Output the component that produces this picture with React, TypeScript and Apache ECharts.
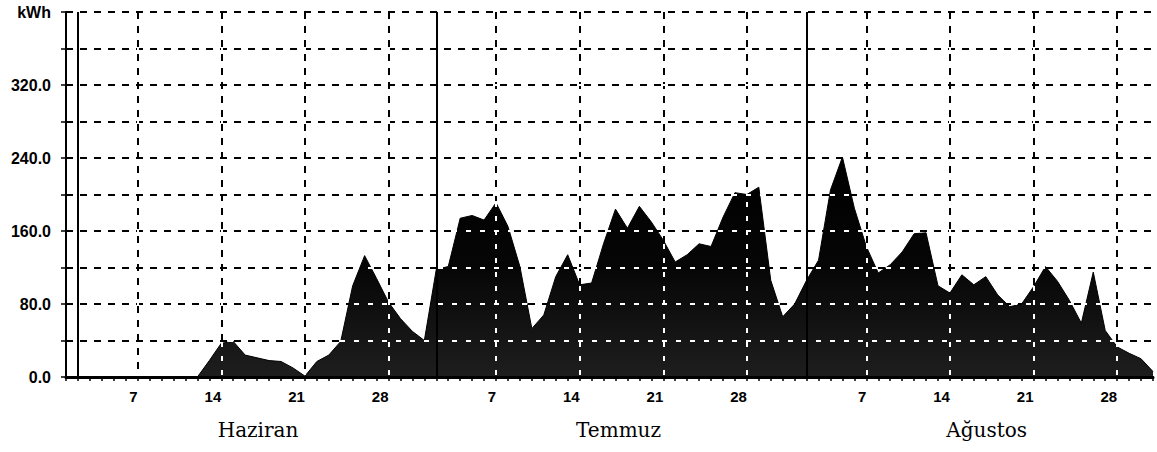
import React, { useEffect, useRef } from "react";
import * as echarts from "echarts";

const monthNames = ["Haziran", "Temmuz", "Ağustos"];
const monthLengths = [30, 31, 31];
const juneKwh = [0, 0, 0, 0, 0, 0, 0, 0, 0, 0, 0, 0, 18, 37, 39, 24, 21, 18, 17, 10, 1, 17, 24, 39, 100, 133, 108, 82, 64, 50];
const julyKwh = [40, 118, 121, 174, 177, 172, 191, 165, 121, 53, 68, 110, 134, 101, 103, 146, 184, 163, 187, 170, 150, 126, 134, 146, 143, 175, 202, 200, 208, 106, 66];
const augustKwh = [80, 106, 128, 205, 241, 185, 143, 114, 123, 137, 157, 158, 100, 92, 112, 101, 110, 90, 77, 80, 99, 121, 105, 84, 59, 115, 51, 33, 26, 20, 6];
const weekLabelDays = [7, 14, 21, 28];
const yMax = 400;
const yStep = 40;
const yLabelStep = 80;
const unitLabel = "kWh";

export default function App() {
  const ref = useRef<HTMLDivElement>(null);
  useEffect(() => {
    if (!ref.current) return;
    const chart = echarts.init(ref.current, null, { renderer: "svg" });
    const categories: string[] = [];
    const dayOfMonth: number[] = [];
    const monthStartIdx: number[] = [];
    monthLengths.forEach((n, m) => {
      monthStartIdx.push(categories.length);
      for (let d = 1; d <= n; d++) {
        categories.push(`${d} ${monthNames[m]}`);
        dayOfMonth.push(d);
      }
    });
    const values = [...juneKwh, ...julyKwh, ...augustKwh];
    const isWeek = (i: number) => weekLabelDays.includes(dayOfMonth[i]);
    const sans = "'Liberation Sans', Arial, sans-serif";
    const dashBlack = { color: "#000", width: 2, type: [7, 7] as number[] };
    const dashWhite = { color: "#fff", width: 2, type: [5, 9] as number[], dashOffset: 6 };

    chart.setOption({
      animation: false,
      grid: { left: 66, right: 4, top: 12, bottom: 75 },
      xAxis: [
        {
          type: "category",
          data: categories,
          boundaryGap: false,
          axisLine: { lineStyle: { color: "#000", width: 2 } },
          axisTick: { show: true, interval: 0, length: 4, lineStyle: { color: "#000", width: 1.5 } },
          axisLabel: {
            interval: (i: number) => isWeek(i),
            formatter: (v: string) => v.split(" ")[0],
            align: "right",
            color: "#000",
            fontFamily: sans,
            fontWeight: "bold",
            fontSize: 15,
            margin: 12,
          },
          splitLine: { show: true, interval: (i: number) => isWeek(i), lineStyle: dashBlack },
        },
        {
          type: "category",
          data: categories,
          boundaryGap: false,
          position: "top",
          z: 5,
          axisLine: { show: true, lineStyle: { color: "#000", width: 3 } },
          axisTick: { show: false },
          axisLabel: { show: false },
          splitLine: { show: true, interval: (i: number) => isWeek(i), lineStyle: dashWhite },
        },
      ],
      yAxis: [
        {
          type: "value",
          min: 0,
          max: yMax,
          interval: yStep,
          axisLine: { show: true, lineStyle: { color: "#000", width: 2 } },
          axisTick: { show: true, length: 5, lineStyle: { color: "#000", width: 1.5 } },
          axisLabel: {
            formatter: (v: number) => (v === yMax ? unitLabel : v % yLabelStep === 0 ? v.toFixed(1) : ""),
            color: "#000",
            fontFamily: sans,
            fontWeight: "bold",
            fontSize: 16,
            margin: 15,
          },
          splitLine: { show: true, showMinLine: false, lineStyle: dashBlack },
        },
        {
          type: "value",
          min: 0,
          max: yMax,
          interval: yStep,
          z: 5,
          axisLine: { show: false },
          axisTick: { show: false },
          axisLabel: { show: false },
          splitLine: { show: true, showMinLine: false, showMaxLine: false, lineStyle: dashWhite },
        },
      ],
      series: [
        {
          type: "line",
          data: values,
          symbol: "none",
          z: 2,
          lineStyle: { color: "#000", width: 1 },
          areaStyle: {
            opacity: 1,
            color: {
              type: "linear",
              x: 0,
              y: 0,
              x2: 0,
              y2: 1,
              colorStops: [
                { offset: 0, color: "#000" },
                { offset: 0.5, color: "#060606" },
                { offset: 1, color: "#1e1e1e" },
              ],
            },
          },
        },
        {
          type: "line",
          data: [],
          z: 6,
          markLine: {
            silent: true,
            symbol: "none",
            label: { show: false },
            lineStyle: { color: "#000", width: 2, type: "solid" },
            data: monthStartIdx.map((s) => ({ xAxis: categories[s + 1] })),
          },
        },
      ],
    });

    const graphics = monthStartIdx.map((s, m) => {
      const x0 = chart.convertToPixel({ xAxisIndex: 0 }, categories[s + 12]) as number;
      const x1 = chart.convertToPixel({ xAxisIndex: 0 }, categories[s + 13]) as number;
      return {
        type: "text",
        x: x0 + 0.7 * (x1 - x0),
        y: 430,
        style: {
          text: monthNames[m],
          fill: "#000",
          fontFamily: "'DejaVu Serif', serif",
          fontSize: 20,
          textAlign: "left",
          textVerticalAlign: "middle",
        },
      };
    });
    chart.setOption({ graphic: graphics });

    return () => chart.dispose();
  }, []);

  return <div ref={ref} style={{ position: "absolute", left: 0, top: 0, width: 1157, height: 452 }} />;
}
